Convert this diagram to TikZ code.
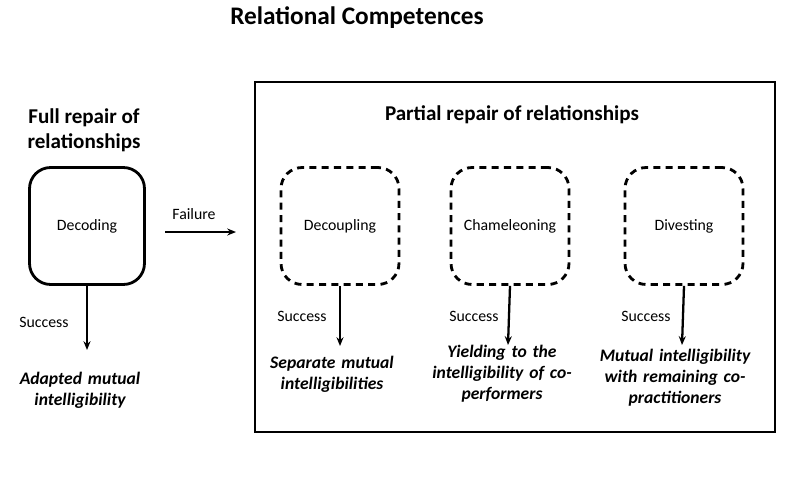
\documentclass[tikz,border=0pt]{standalone}
\usepackage{fontspec}
\setmainfont{Carlito}
\usetikzlibrary{arrows.meta}
\begin{document}
\begin{tikzpicture}[x=0.02cm,y=-0.02cm,
  solidbox/.style={draw,line width=1.6pt,rounded corners=12pt,minimum width=2.3cm,minimum height=2.34cm,font=\small},
  dashbox/.style={draw,line width=1.6pt,dashed,dash pattern=on 4pt off 3pt,rounded corners=12pt,minimum width=2.36cm,minimum height=2.34cm,font=\small},
  arr/.style={line width=1.3pt,-{Stealth[length=5pt,width=4pt]}},
  lab/.style={font=\small},
  res/.style={font=\bfseries\itshape,align=center,text width=3.2cm,inner sep=0pt}]
\useasboundingbox (0,0) rectangle (800,480);
\node[font=\Large\bfseries] (title) at (357,18) {Relational Competences};
\node[font=\large\bfseries,align=center] (full) at (84,130) {Full repair of\\relationships};
\node[solidbox] (dec) at (87,226) {Decoding};
\coordinate (decend) at (87,350);
\draw[arr] (dec.south) -- (decend);
\node[lab] (s0) at (44,322) {Success};
\node[res] (r0) at (80,390) {Adapted mutual\\intelligibility};
\coordinate (fa) at (165,232);
\coordinate (fb) at (236,232);
\draw[arr] (fa) -- (fb);
\node[lab] (fail) at (194,214) {Failure};
\node[draw,line width=1.3pt,minimum width=10.4cm,minimum height=7cm] (big) at (515,257) {};
\node[font=\large\bfseries] (partial) at (512,115) {Partial repair of relationships};
\node[dashbox] (d1) at (340,226) {Decoupling};
\node[dashbox] (d2) at (510,226) {Chameleoning};
\node[dashbox] (d3) at (684,226) {Divesting};
\coordinate (e1) at (340,346);
\coordinate (e2) at (508,345);
\coordinate (e3) at (682,345);
\draw[arr] (d1.south) -- (e1);
\draw[arr] (d2.south) -- (e2);
\draw[arr] (d3.south) -- (e3);
\node[lab] (s1) at (302,316) {Success};
\node[lab] (s2) at (474,316) {Success};
\node[lab] (s3) at (646,316) {Success};
\node[res] (r1) at (332,374) {Separate mutual\\intelligibilities};
\node[res] (r2) at (502,374) {Yielding to the\\intelligibility of co-\\performers};
\node[res] (r3) at (675,378) {Mutual intelligibility\\with remaining co-\\practitioners};
\end{tikzpicture}
\end{document}
